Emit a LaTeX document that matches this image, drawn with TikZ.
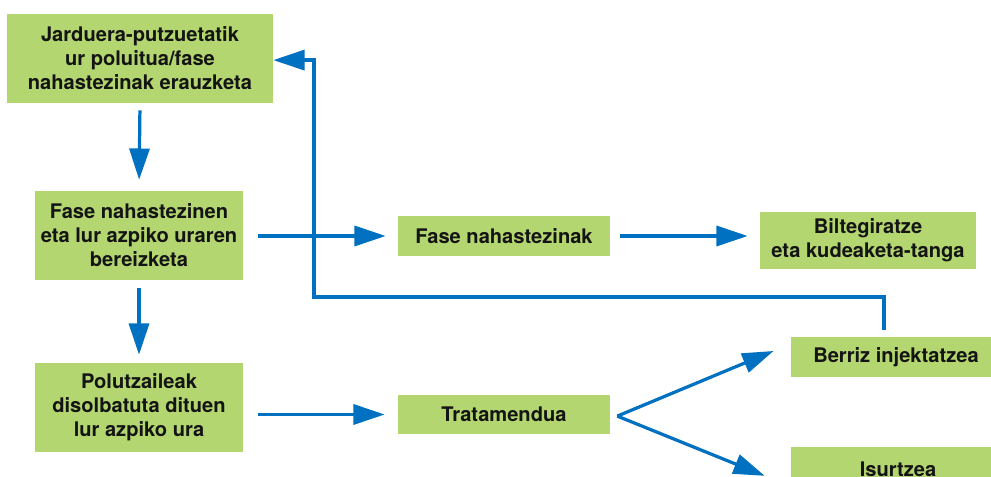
\documentclass[tikz,border=0pt]{standalone}
\usepackage{fontspec}
\setmainfont{TeX Gyre Heros}
\usetikzlibrary{arrows.meta, positioning}
\definecolor{boxgreen}{RGB}{180,214,112}
\definecolor{flowblue}{RGB}{0,112,192}
\tikzset{
  box/.style={fill=boxgreen, inner sep=0pt, align=center, text=black!92,
    font=\fontsize{14.3}{17}\selectfont\bfseries},
  arr/.style={draw=flowblue, line width=2.3pt,
    -{Triangle[length=0.78cm, width=0.5cm]}},
}

\begin{document}
\begin{tikzpicture}[x=0.025cm, y=-0.025cm]
    \clip (0,0) rectangle (991,477);
    % left column
    \node[box, minimum width=6.65cm, minimum height=2.225cm] (src) at (140,58.5)
        {Jarduera-putzuetatik\\ur poluitua/fase\\nahastezinak erauzketa};
    \node[box, minimum width=5.2cm, minimum height=2.225cm] (sep) at (139,235.5)
        {Fase nahastezinen\\eta lur azpiko uraren\\bereizketa};
    \node[box, minimum width=5.2cm, minimum height=2.225cm] (dis) at (139,407.5)
        {Polutzaileak\\disolbatuta dituen\\lur azpiko ura};
    % middle and right
    \node[box, minimum width=5.3cm, minimum height=1cm] (fase) at (504,236) {Fase nahastezinak};
    \node[box, minimum width=5.4cm, minimum height=1.425cm] (tank) at (868,240.5)
        {Biltegiratze\\eta kudeaketa-tanga};
    \node[box, minimum width=5.3cm, minimum height=0.975cm] (tr) at (504,414.5) {Tratamendua};
    \node[box, minimum width=5.25cm, minimum height=1cm] (inj) at (896,357) {Berriz injektatzea};
    \node[box, minimum width=5.35cm, minimum height=1.1cm] (isu) at (898,469) {Isurtzea};
    \coordinate (bend) at (314,297);

    \draw[arr, shorten <=0.175cm, shorten >=0.275cm] (src.south) -- (sep.north);
    \draw[arr, shorten <=0.2cm, shorten >=0.2cm] (sep.south) -- (dis.north);
    \draw[arr, shorten <=0.375cm, shorten >=0.3cm] (sep.east |- fase.west) -- (fase.west);
    \draw[arr, shorten <=0.25cm, shorten >=0.3cm] (fase.east) -- (fase.east -| tank.west);
    \draw[arr, shorten <=0.375cm, shorten >=0.325cm] (dis.east |- tr.west) -- (tr.west);
    \draw[arr] ([xshift=0.175cm, yshift=-0.04cm]tr.east) -- ([xshift=-0.43cm, yshift=0.15cm]inj.west);
    \draw[arr] ([xshift=0.175cm, yshift=-0.04cm]tr.east) -- ([xshift=-0.65cm, yshift=-0.17cm]isu.west);
    % recycled stream back to the wells
    \draw[arr, shorten <=0.175cm] ([xshift=-0.3cm]inj.north) |- (bend) |- ([yshift=-0.04cm]src.east);
\end{tikzpicture}
\end{document}
